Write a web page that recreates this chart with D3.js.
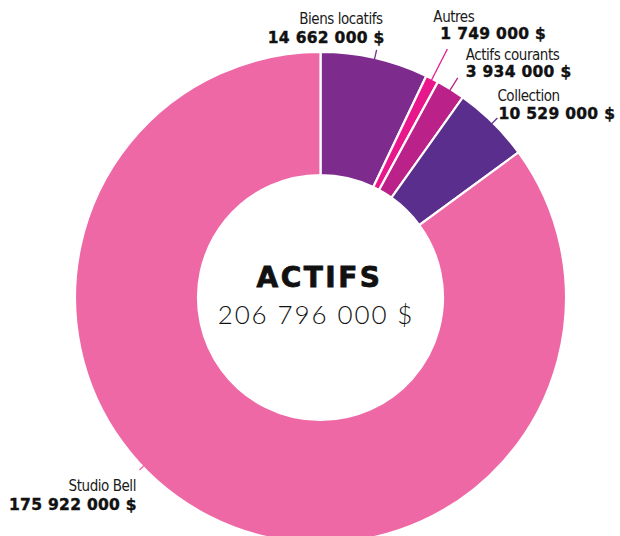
<!DOCTYPE html>
<html><head><meta charset="utf-8">
<script src="https://cdn.jsdelivr.net/npm/d3@7"></script>
<style>
html,body{margin:0;padding:0;background:#fff;}
.name{font-family:"Liberation Sans Narrow","DejaVu Sans Condensed","Roboto Condensed",sans-serif;font-stretch:condensed;font-size:15px;letter-spacing:-0.45px;fill:#1a1a1a;}
.val{font-family:"DejaVu Sans",sans-serif;font-weight:bold;font-size:15.5px;letter-spacing:0.3px;fill:#111;stroke:#111;stroke-width:0.4px;}
</style></head>
<body><svg id="c" width="620" height="536"></svg>
<script>
const categories = ["Biens locatifs","Autres","Actifs courants","Collection","Studio Bell"];
const values = [14662000,1749000,3934000,10529000,175922000];
const valueLabels = ["14 662 000 $","1 749 000 $","3 934 000 $","10 529 000 $","175 922 000 $"];
const colors = ["#7E2B8E","#E9178C","#BA2189","#5A2E8C","#EF68A6"];
const centerTitle = "ACTIFS";
const centerTotal = "206 796 000 $";

// layout (not data)
const W=620,H=536,cx=320.5,cy=297.5,R=245.5,r=122.5;
const labelLayout = [
  {angle:null, r1:254, anchor:"end",   nx:6,  ny:-25.5, vx:8,  vy:-7},
  {angle:null, r1:279, anchor:"start", nx:-14,ny:-27.5, vx:-7, vy:-10},
  {angle:null, r1:259, anchor:"start", nx:8,  ny:-18, vx:8,  vy:-0.5},
  {angle:null, r1:252, anchor:"start", nx:0,  ny:-17.5, vx:1,  vy:1},
  {angle:226.4*Math.PI/180, r1:250, anchor:"end", nx:-3.5, ny:21.5, vx:-2.5, vy:40}
];

const svg=d3.select("#c");
const g=svg.append("g").attr("transform",`translate(${cx},${cy})`);
const data=categories.map((c,i)=>({name:c,value:values[i],label:valueLabels[i],color:colors[i],i}));
const pie=d3.pie().value(d=>d.value).sort(null);
const arcs=pie(data);
const arc=d3.arc().innerRadius(r).outerRadius(R);

g.selectAll("path.slice").data(arcs).join("path")
 .attr("class","slice").attr("d",arc).attr("fill",d=>d.data.color)
 .attr("stroke","#fff").attr("stroke-width",2.2).attr("stroke-linejoin","miter");

arcs.forEach((a,i)=>{
  const L=labelLayout[i];
  const ang = L.angle!=null ? L.angle : (a.startAngle+a.endAngle)/2;
  const sx=Math.sin(ang), sy=-Math.cos(ang);
  const x0=(R-6)*sx, y0=(R-6)*sy, x1=L.r1*sx, y1=L.r1*sy;
  g.append("line").attr("x1",x0).attr("y1",y0).attr("x2",x1).attr("y2",y1)
   .attr("stroke",a.data.color).attr("stroke-width",1.3);
  g.append("text").attr("class","name").attr("text-anchor",L.anchor)
   .attr("x",x1+L.nx).attr("y",y1+L.ny).text(a.data.name);
  g.append("text").attr("class","val").attr("text-anchor",L.anchor)
   .attr("x",x1+L.vx).attr("y",y1+L.vy).text(a.data.label);
});

g.append("text").attr("x",-1).attr("y",-10.5).attr("text-anchor","middle")
 .style("font-family","'DejaVu Sans',sans-serif").style("font-weight","bold")
 .style("font-size","28px").style("letter-spacing","2.5px").attr("fill","#111")
 .attr("stroke","#111").attr("stroke-width",0.8).text(centerTitle);
g.append("text").attr("x",-4.5).attr("y",26.5).attr("text-anchor","middle")
 .style("font-family","Lato,sans-serif").style("font-weight","300")
 .style("font-size","26px").style("letter-spacing","1.9px").attr("fill","#111").text(centerTotal);
</script></body></html>
